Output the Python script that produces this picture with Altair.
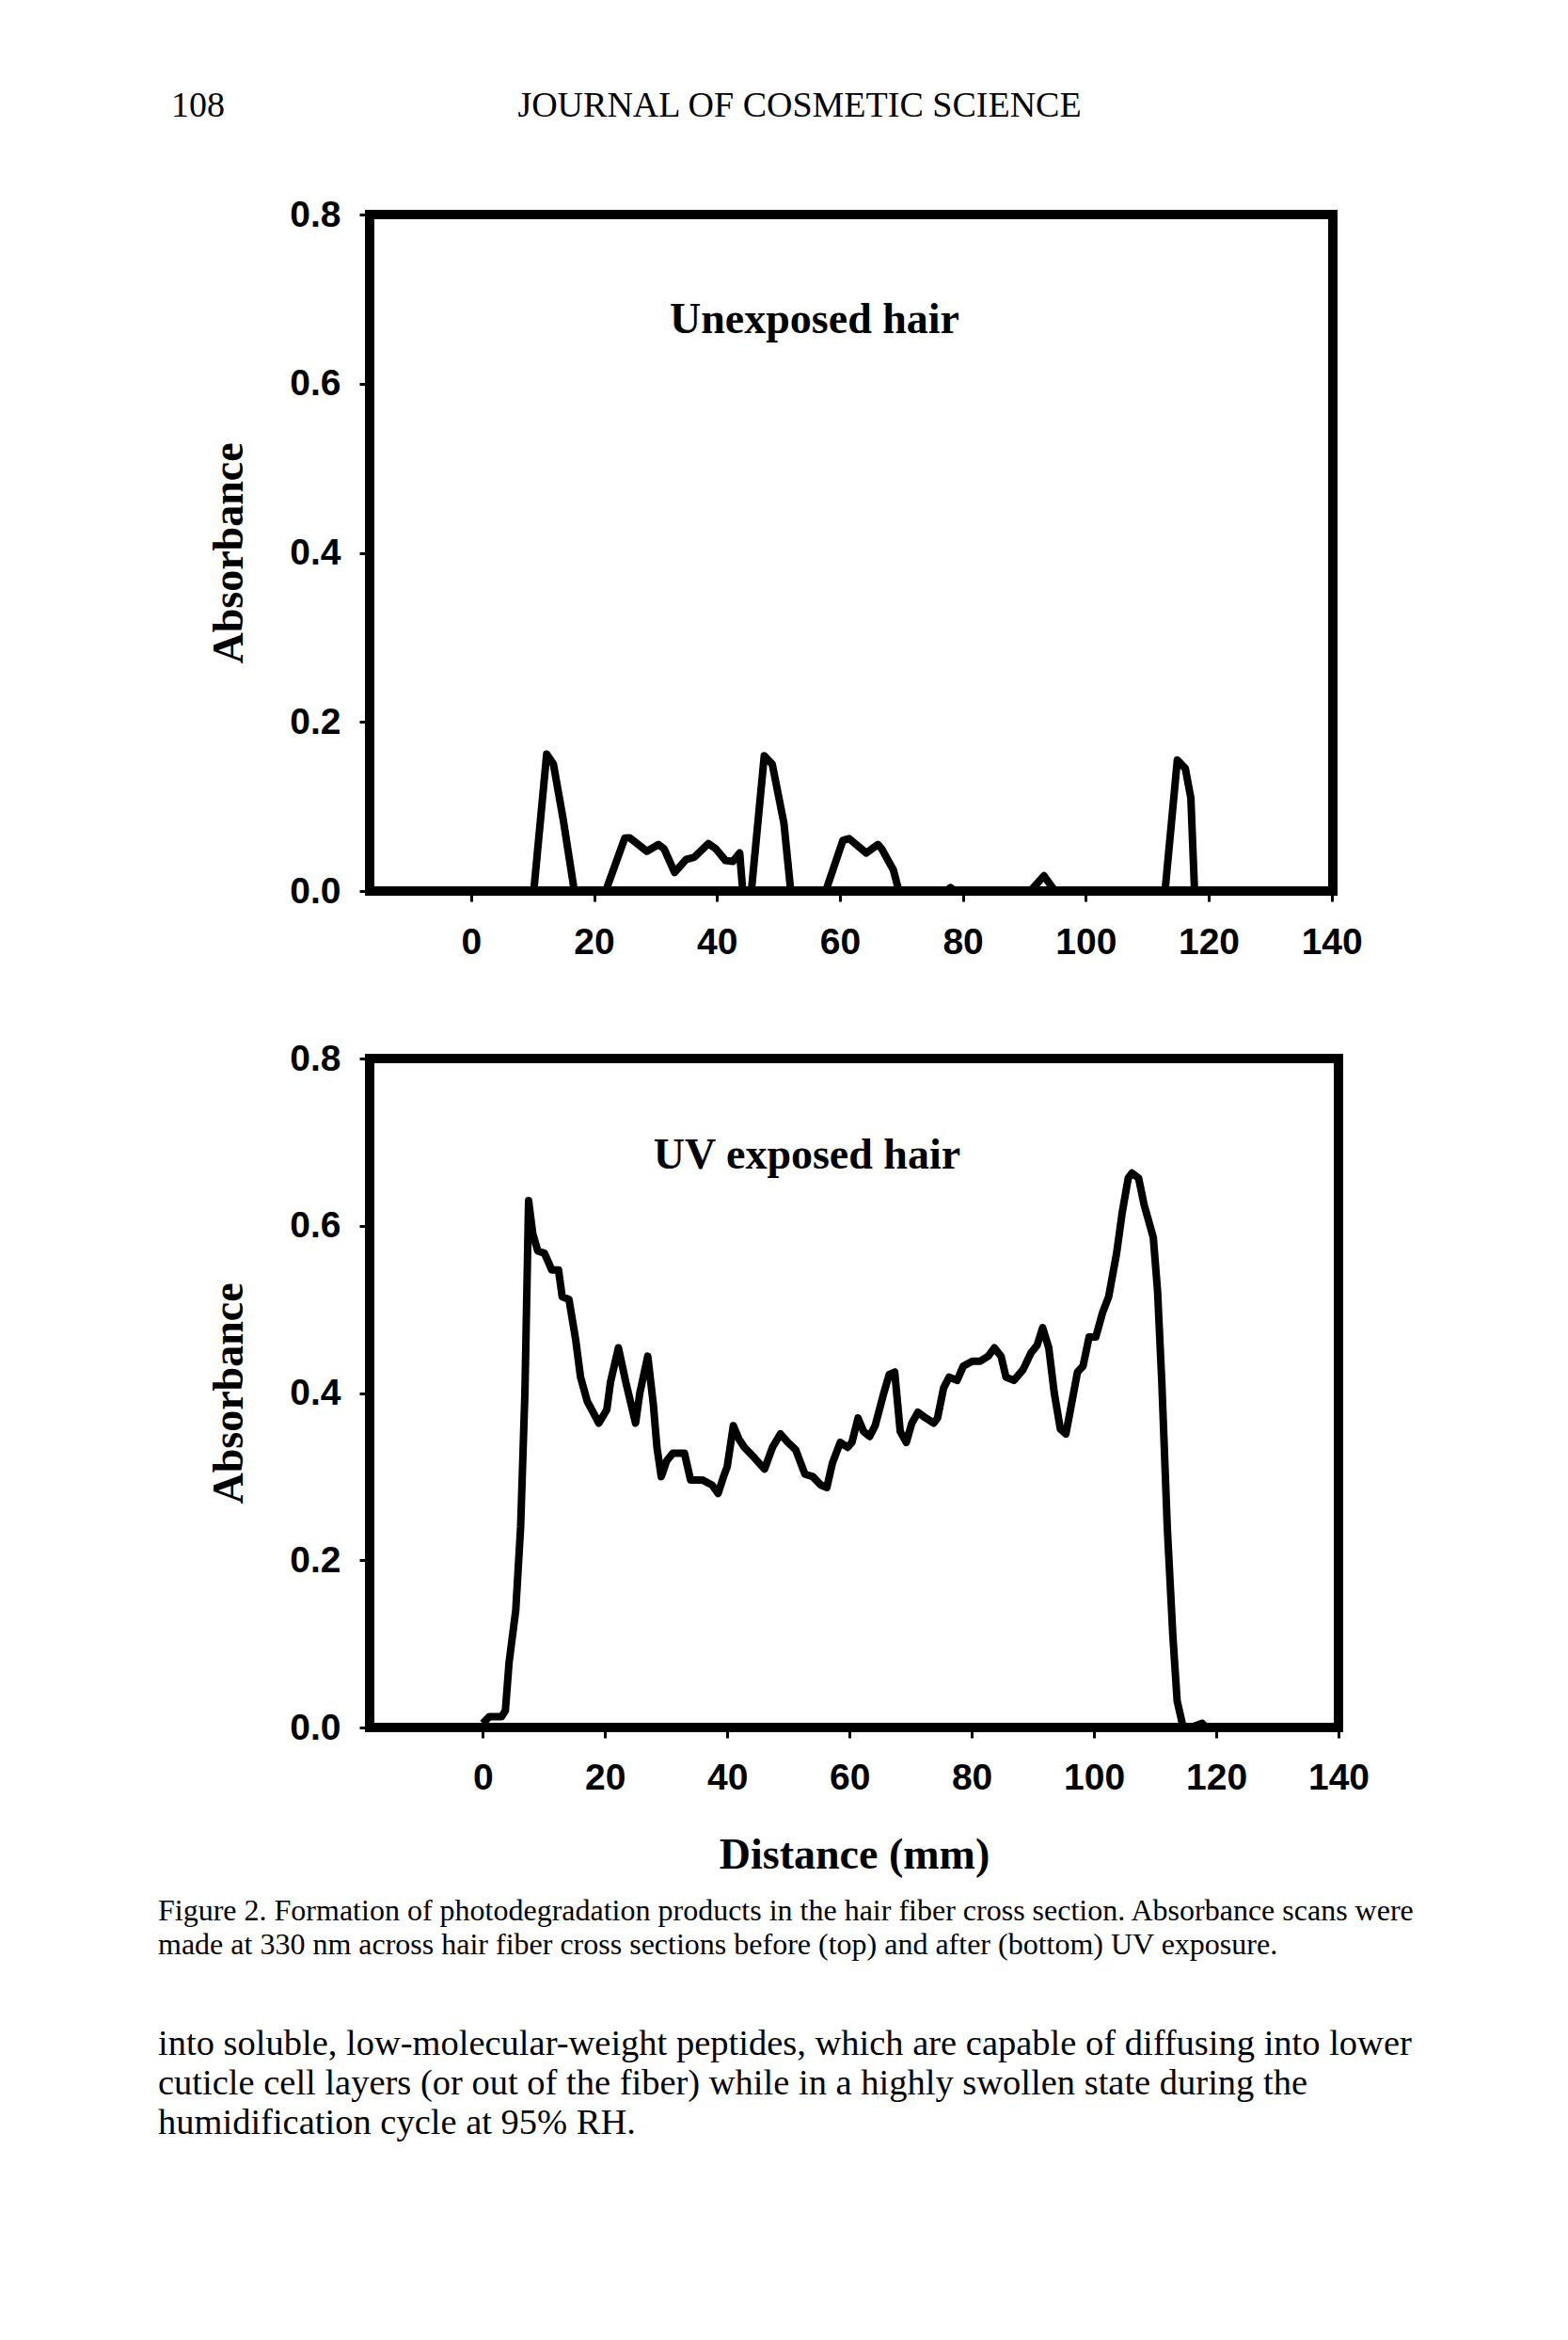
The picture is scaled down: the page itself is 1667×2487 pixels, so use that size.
import altair as alt
import pandas as pd

# ---------------- data ----------------
X_TICKS = [0, 20, 40, 60, 80, 100, 120, 140]
Y_TICKS = [0.0, 0.2, 0.4, 0.6, 0.8]

# Unexposed hair (top panel)
UNEXP_X = [0, 10.2, 12.3, 13.4, 15.0, 16.8, 21.9, 25.0, 25.8, 28.6, 30.5, 31.4, 33.1,
           35.0, 36.3, 38.6, 39.8, 41.4, 42.6, 43.7, 44.2, 45.6, 47.7, 49.0, 50.9, 52.0,
           57.7, 60.5, 61.5, 64.3, 66.2, 66.8, 68.7, 69.6, 77.3, 78.0, 78.7, 91.0, 93.2,
           95.0, 112.9, 114.9, 116.2, 117.1, 117.7, 139.0]
UNEXP_Y = [0, 0, 0.162, 0.15, 0.084, 0, 0, 0.0625, 0.063, 0.047, 0.055, 0.05, 0.022,
           0.0375, 0.04, 0.056, 0.05, 0.036, 0.035, 0.045, 0, 0, 0.16, 0.15, 0.08, 0,
           0, 0.06, 0.062, 0.045, 0.055, 0.05, 0.025, 0, 0, 0.004, 0, 0, 0.018,
           0, 0, 0.155, 0.145, 0.11, 0, 0]

# UV exposed hair (bottom panel)
UV_X = [0, 1.1, 3.1, 3.7, 4.3, 5.4, 6.2, 6.9, 7.5, 8.2, 9.0, 10.1, 10.7, 11.3, 12.4, 13.0,
        14.1, 15.2, 16.0, 17.1, 19.0, 20.3, 20.9, 22.2, 23.4, 25.0, 25.7, 27.0, 27.9, 28.5,
        29.2, 30.1, 31.1, 33.0, 34.0, 35.9, 37.5, 38.5, 39.4, 40.0, 41.0, 41.9, 42.8, 44.5,
        46.1, 47.4, 48.7, 49.9, 51.2, 52.7, 54.0, 55.3, 56.3, 57.2, 58.5, 59.7, 60.4, 61.4,
        62.3, 63.3, 64.2, 65.5, 66.5, 67.4, 68.3, 69.3, 70.2, 71.2, 72.5, 73.8, 74.4, 75.4,
        76.3, 77.6, 78.6, 80.1, 81.4, 82.7, 83.7, 84.8, 85.6, 86.9, 88.4, 89.7, 90.7, 91.6,
        92.6, 93.5, 94.5, 95.4, 96.3, 97.3, 98.2, 99.2, 100.3, 101.4, 102.4, 103.7, 104.6,
        105.6, 106.2, 107.3, 108.2, 109.7, 110.4, 111.1, 112.0, 112.9, 113.6, 114.5, 115.8,
        117.7, 118.3]
UV_Y = [0.005, 0.013, 0.013, 0.02, 0.077, 0.14, 0.24, 0.40, 0.63, 0.59, 0.57, 0.567, 0.557,
        0.547, 0.547, 0.515, 0.512, 0.464, 0.419, 0.39, 0.364, 0.38, 0.413, 0.454, 0.413,
        0.364, 0.40, 0.444, 0.387, 0.335, 0.30, 0.319, 0.328, 0.328, 0.296, 0.296, 0.29,
        0.28, 0.30, 0.312, 0.361, 0.345, 0.335, 0.322, 0.309, 0.335, 0.351, 0.341, 0.332,
        0.303, 0.30, 0.29, 0.287, 0.316, 0.341, 0.335, 0.341, 0.37, 0.354, 0.348, 0.361,
        0.397, 0.422, 0.425, 0.354, 0.341, 0.364, 0.377, 0.37, 0.364, 0.37, 0.406, 0.419,
        0.415, 0.432, 0.438, 0.438, 0.444, 0.454, 0.444, 0.419, 0.415, 0.428, 0.448, 0.457,
        0.478, 0.454, 0.40, 0.357, 0.351, 0.386, 0.425, 0.432, 0.467, 0.467, 0.496, 0.515,
        0.567, 0.615, 0.657, 0.663, 0.657, 0.625, 0.586, 0.522, 0.412, 0.238, 0.11, 0.032,
        0.003, 0.0, 0.005, 0.0]

TOP_LABEL = "Unexposed hair"
BOTTOM_LABEL = "UV exposed hair"
Y_TITLE = "Absorbance"
X_TITLE = "Distance (mm)"
PAGE_NUMBER = "108"
JOURNAL = "JOURNAL OF COSMETIC SCIENCE"
CAPTION = [
    "Figure 2.  Formation of photodegradation products in the hair fiber cross section. Absorbance scans were",
    "made at 330 nm across hair fiber cross sections before (top) and after (bottom) UV exposure.",
]
PARAGRAPH = [
    "into soluble, low-molecular-weight peptides, which are capable of diffusing into lower",
    "cuticle cell layers (or out of the fiber) while in a highly swollen state during the",
    "humidification cycle at 95% RH.",
]

# ---------------- styling ----------------
W_TOP = 1024
W_BOTTOM = 1030
X_DOMAIN_TOP = [-16.5, 140.2]
X_DOMAIN_BOTTOM = [-18.5, 140.0]
FRAME = alt.ViewBackground(stroke="black", strokeWidth=10)
NOFRAME = alt.ViewBackground(stroke="transparent", strokeWidth=0)

axis_common = dict(
    labelFont="Liberation Sans", labelFontSize=39, labelFontWeight="bold",
    labelColor="black", tickColor="black", tickWidth=3, tickSize=11,
    domain=False, grid=False, labelFlush=False,
    titleFont="Liberation Serif", titleFontSize=46, titleFontWeight="bold",
    titleColor="black",
)


def panel(xs, ys, x_domain, label, label_x, label_y, width, height, x_title, x_label_pad):
    df = pd.DataFrame({"distance": xs, "absorbance": ys})
    x_axis_kwargs = dict(values=X_TICKS, labelPadding=x_label_pad, **axis_common)
    if x_title:
        x_axis = alt.Axis(title=x_title, titlePadding=40, **x_axis_kwargs)
    else:
        x_axis = alt.Axis(title=None, **x_axis_kwargs)
    line = alt.Chart(df).mark_line(
        color="black", strokeWidth=8, strokeJoin="round", clip=True
    ).encode(
        x=alt.X("distance:Q", scale=alt.Scale(domain=x_domain, nice=False, zero=False),
                axis=x_axis),
        y=alt.Y("absorbance:Q", scale=alt.Scale(domain=[0, 0.8], nice=False),
                axis=alt.Axis(values=Y_TICKS, format=".1f", title=Y_TITLE,
                              titlePadding=40, labelPadding=20, **axis_common)),
    )
    txt = alt.Chart(pd.DataFrame({"t": [label]})).mark_text(
        font="Liberation Serif", fontSize=46, fontWeight="bold", color="black",
        align="center", baseline="middle",
    ).encode(text="t:N", x=alt.value(label_x), y=alt.value(label_y))
    return alt.layer(line, txt).properties(width=width, height=height, view=FRAME)


top = panel(UNEXP_X, UNEXP_Y, X_DOMAIN_TOP, TOP_LABEL, 473, 112, W_TOP, 719, None, 24)
bottom = panel(UV_X, UV_Y, X_DOMAIN_BOTTOM, BOTTOM_LABEL, 465, 103, W_BOTTOM, 711, X_TITLE, 23)

one = pd.DataFrame({"a": [0]})

header = alt.layer(
    alt.Chart(pd.DataFrame({"t": [PAGE_NUMBER]})).mark_text(
        font="Liberation Serif", fontSize=38, align="left", baseline="middle", color="black"
    ).encode(text="t:N", x=alt.value(-211), y=alt.value(105)),
    alt.Chart(pd.DataFrame({"t": [JOURNAL]})).mark_text(
        font="Liberation Serif", fontSize=38, align="center", baseline="middle", color="black"
    ).encode(text="t:N", x=alt.value(457), y=alt.value(105)),
).properties(width=W_TOP, height=42, view=NOFRAME)

caption = alt.layer(
    alt.Chart(one).mark_text(
        text=CAPTION, font="Liberation Serif", fontSize=32, lineHeight=36,
        align="left", baseline="top", color="black"
    ).encode(x=alt.value(-225), y=alt.value(2)),
    alt.Chart(one).mark_text(
        text=PARAGRAPH, font="Liberation Serif", fontSize=38.5, lineHeight=42,
        align="left", baseline="top", color="black"
    ).encode(x=alt.value(-225), y=alt.value(140)),
).properties(width=W_TOP, height=260, view=NOFRAME)

chart = alt.vconcat(
    header, top, bottom, caption, spacing=178, bounds="flush"
).properties(
    padding={"left": 160, "top": 0, "right": 20, "bottom": 20},
    background="white",
)

chart.save("out.html", embed_options={"renderer": "svg", "actions": False})
